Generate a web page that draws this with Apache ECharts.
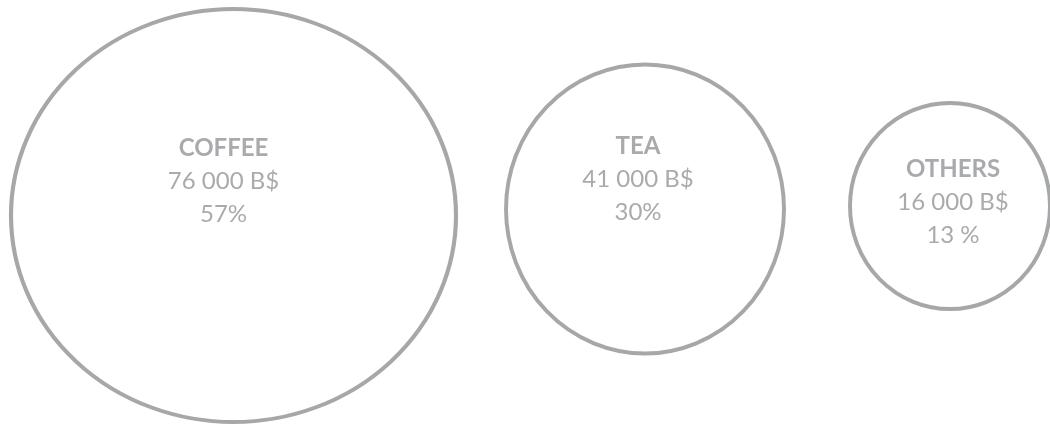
<!DOCTYPE html>
<html>
<head>
<meta charset="utf-8">
<script src="https://cdn.jsdelivr.net/npm/echarts@6/dist/echarts.min.js"></script>
<style>
html,body{margin:0;padding:0;background:#fff;}
#chart{width:1050px;height:425px;}
</style>
</head>
<body>
<div id="chart"></div>
<script>
// data
const categories = ['COFFEE', 'TEA', 'OTHERS'];
const amounts = [76000, 41000, 16000];
const shares = ['57%', '30%', '13 %'];
const currency = 'B$';

// look of each bubble (hand tuned to the mockup, not data)
const bubbleLook = [
  {w: 445, h: 413, gap: 11, cy: 215.5, label: [-10, -34]},
  {w: 278, h: 289, gap: 50, cy: 209,   label: [-7, -30]},
  {w: 200, h: 206, gap: 66, cy: 206,   label: [3, -4]}
];
const grey = '#939598';
const lineGrey = '#8f9194';

function money(v){
  return String(v).replace(/\B(?=(\d{3})+(?!\d))/g, ' ') + ' ' + currency;
}

// lay the bubbles out left to right
let cursor = 0;
const points = categories.map((name, i) => {
  const look = bubbleLook[i];
  cursor += look.gap;
  const cx = cursor + look.w / 2;
  cursor += look.w;
  return {
    name: name,
    value: [cx, look.cy, amounts[i]],
    symbolSize: [look.w, look.h],
    label: {offset: look.label}
  };
});

let chart = echarts.init(document.getElementById('chart'));
chart.setOption({
  animation: false,
  grid: {left: 0, right: 0, top: 0, bottom: 0},
  xAxis: {type: 'value', min: 0, max: 1050, show: false},
  yAxis: {type: 'value', min: 0, max: 425, inverse: true, show: false},
  series: [{
    type: 'scatter',
    symbol: 'circle',
    data: points,
    itemStyle: {
      color: 'rgba(0,0,0,0)',
      borderColor: lineGrey,
      borderWidth: 4
    },
    label: {
      show: true,
      position: 'inside',
      formatter: (p) => {
        const i = p.dataIndex;
        return '{n|' + categories[i] + '}\n{v|' + money(amounts[i]) + '}\n{v|' + shares[i] + '}';
      },
      rich: {
        n: {fontFamily: 'Lato', fontSize: 24, fontWeight: 'bold', color: grey, lineHeight: 33, align: 'center'},
        v: {fontFamily: 'Lato', fontSize: 24, color: grey, lineHeight: 33, align: 'center'}
      }
    },
    emphasis: {disabled: true}
  }]
});
</script>
</body>
</html>
